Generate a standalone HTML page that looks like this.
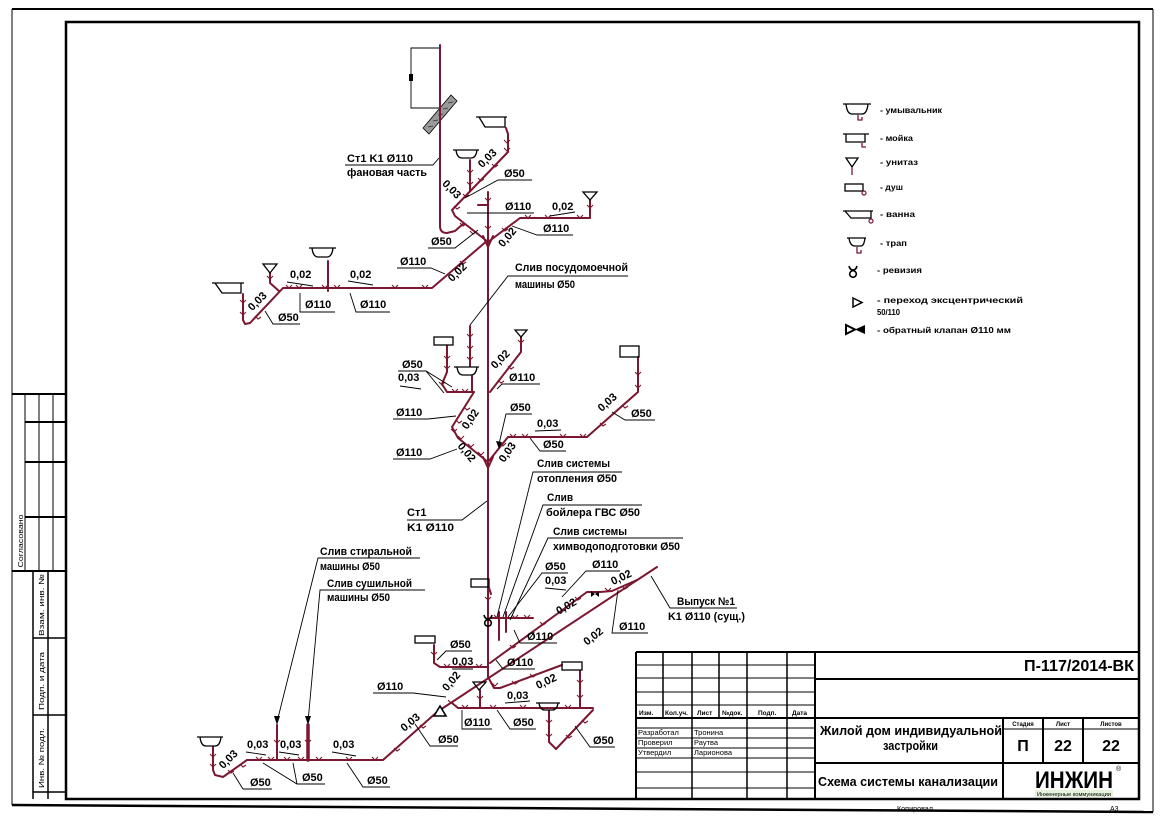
<!DOCTYPE html>
<html><head><meta charset="utf-8">
<style>
html,body{margin:0;padding:0;background:#fff;}
svg{display:block;}
text{font-family:"Liberation Sans","DejaVu Sans",sans-serif;fill:#000;}
.l{font-size:11px;font-weight:bold;}
.lg{font-size:8.5px;font-weight:bold;}
.s{font-size:7.5px;}
.p{fill:none;stroke:#7b1730;stroke-width:2;stroke-linejoin:round;stroke-linecap:round;}
.pt{fill:none;stroke:#7b1730;stroke-width:1.3;stroke-linejoin:round;}
.hk{fill:none;stroke:#7b1730;stroke-width:1.1;}
.k{fill:none;stroke:#000;stroke-width:0.9;}
.f{fill:none;stroke:#000;stroke-width:1.3;}
</style></head><body>
<svg width="1166" height="824" viewBox="0 0 1166 824" xmlns="http://www.w3.org/2000/svg">
<rect x="0" y="0" width="1166" height="824" fill="#fff"/>

<!-- outer frame -->
<path d="M12,9 H1153" stroke="#000" stroke-width="2" fill="none"/>
<path d="M12,9 V805 M1153,9 V812" stroke="#000" stroke-width="1" fill="none"/>
<path d="M12,805 L1153,812" stroke="#000" stroke-width="2.5" fill="none"/>
<!-- inner frame -->
<rect x="66" y="22" width="1073" height="777" fill="none" stroke="#000" stroke-width="2.5"/>

<!-- left strip -->
<g stroke="#000" fill="none">
<path d="M12,394 H66 M12,571 H66" stroke-width="2"/>
<path d="M25,394 V571 M39,394 V571 M53,394 V571" stroke-width="1"/>
<path d="M25,422 H66 M25,462 H66 M25,517 H66" stroke-width="2"/>
<path d="M33,571 V799 M48,571 V799" stroke-width="1.5"/>
<path d="M33,638 H66 M33,715 H66 M33,792 H66" stroke-width="1.5"/>
</g>
<text class="s" transform="translate(23,541) rotate(-90)" text-anchor="middle" textLength="53" lengthAdjust="spacingAndGlyphs">Согласовано</text>
<text class="s" transform="translate(44,605) rotate(-90)" text-anchor="middle" textLength="62" lengthAdjust="spacingAndGlyphs">Взам. инв. №</text>
<text class="s" transform="translate(44,681) rotate(-90)" text-anchor="middle" textLength="58" lengthAdjust="spacingAndGlyphs">Подп. и дата</text>
<text class="s" transform="translate(44,758) rotate(-90)" text-anchor="middle" textLength="60" lengthAdjust="spacingAndGlyphs">Инв. № подл.</text>

<!-- title block -->
<g stroke="#000" fill="none">
<path d="M636,652 H1139 M636,652 V799 M815,652 V799" stroke-width="2"/>
<path d="M636,665 H815 M636,678 H815 M636,692 H815 M636,705 H815" stroke-width="1"/>
<path d="M636,718 H1139" stroke-width="2"/>
<path d="M663,652 V718 M719,652 V718 M692,652 V799 M747,652 V799 M787,652 V799" stroke-width="1.5"/>
<path d="M636,728 H815 M636,738 H815 M636,748 H815 M636,758 H815 M636,772 H815 M636,788 H815" stroke-width="1"/>
<path d="M815,679 H1139 M815,763 H1139" stroke-width="2"/>
<path d="M1003,718 V799 M1043,718 V763 M1083,718 V763" stroke-width="2"/>
<path d="M1003,729 H1139" stroke-width="1"/>
</g>
<g font-size="6.5" font-weight="bold">
<text x="639" y="715">Изм.</text>
<text x="665" y="715">Кол.уч.</text>
<text x="697" y="715">Лист</text>
<text x="722" y="715">№док.</text>
<text x="758" y="715">Подп.</text>
<text x="792" y="715">Дата</text>
</g>
<g font-size="7.5">
<text x="638" y="735">Разработал</text><text x="694" y="735">Тронина</text>
<text x="638" y="745">Проверил</text><text x="694" y="745">Раутва</text>
<text x="638" y="755">Утвердил</text><text x="694" y="755">Ларионова</text>
</g>
<text x="1024" y="671" font-size="16" font-weight="bold" textLength="110" lengthAdjust="spacingAndGlyphs">П-117/2014-ВК</text>
<text x="820" y="735" font-size="13" textLength="182" lengthAdjust="spacingAndGlyphs" font-weight="bold">Жилой дом индивидуальной</text>
<text x="883" y="750" font-size="13" textLength="55" lengthAdjust="spacingAndGlyphs" font-weight="bold">застройки</text>
<text x="818" y="786" font-size="13" textLength="180" lengthAdjust="spacingAndGlyphs" font-weight="bold">Схема системы канализации</text>
<g font-size="6" font-weight="bold" text-anchor="middle">
<text x="1023" y="726">Стадия</text><text x="1063" y="726">Лист</text><text x="1111" y="726">Листов</text>
</g>
<g font-size="16" font-weight="bold" text-anchor="middle">
<text x="1023" y="751">П</text><text x="1063" y="751">22</text><text x="1111" y="751">22</text>
</g>
<text x="1035" y="788" font-size="24" font-weight="bold" fill="#111" textLength="78" lengthAdjust="spacingAndGlyphs">ИНЖИН</text>
<rect x="1035" y="790" width="78" height="7" fill="#e4f2dc"/>
<text x="1037" y="796" font-size="5" fill="#3c9a3c" textLength="74" lengthAdjust="spacingAndGlyphs">Инженерные коммуникации</text>
<text x="1116" y="771" font-size="7">®</text>
<text x="897" y="811" font-size="7" textLength="36" lengthAdjust="spacingAndGlyphs">Копировал</text>
<text x="1110" y="811" font-size="7">А3</text>

<!-- ===== Legend ===== -->
<g class="f">
<path d="M843,104 H871 M846,104 Q847,114 852,114 H862 Q867,114 868,104"/>
<path d="M843,134 H869 M846,134 V142 H865 V134"/>
<path d="M846,158 H858 L852,167 Z"/>
<rect x="845" y="184" width="18" height="7"/>
<path d="M843,211 H873 M845,211 L851,218 H871 V211"/>
<path d="M847,238 H866 M849,238 Q850,246 855,246 H861 Q864,246 865,238"/>
<circle cx="853" cy="274" r="3.3" stroke-width="1.6"/>
<path d="M849,266 Q850,270 853,270 Q856,270 857,266" stroke-width="1.6"/>
<path d="M853,298 L862,302.5 L853,307 Z" stroke-width="1.5"/>
<path d="M846,325 L855,329.5 L846,334 Z" stroke-width="2"/>
</g>
<path d="M865,325 L855,329.5 L865,334 Z" fill="#000"/>
<path class="pt" d="M858,115 V120 H862 V117 M862,143 V147 H866 M852,167 V175 M857,247 V253 H861 V250"/>
<circle cx="864" cy="193" r="2" fill="none" stroke="#7b1730" stroke-width="1.2"/>
<circle cx="871" cy="221" r="2" fill="none" stroke="#7b1730" stroke-width="1.2"/>
<text class="lg" x="880" y="113" textLength="62" lengthAdjust="spacingAndGlyphs">- умывальник</text>
<text class="lg" x="880" y="141" textLength="33" lengthAdjust="spacingAndGlyphs">- мойка</text>
<text class="lg" x="880" y="165" textLength="38" lengthAdjust="spacingAndGlyphs">- унитаз</text>
<text class="lg" x="880" y="190" textLength="23" lengthAdjust="spacingAndGlyphs">- душ</text>
<text class="lg" x="880" y="217" textLength="35" lengthAdjust="spacingAndGlyphs">- ванна</text>
<text class="lg" x="880" y="246" textLength="27" lengthAdjust="spacingAndGlyphs">- трап</text>
<text class="lg" x="877" y="273" textLength="45" lengthAdjust="spacingAndGlyphs">- ревизия</text>
<text class="lg" x="877" y="303" textLength="146" lengthAdjust="spacingAndGlyphs">- переход эксцентрический</text>
<text class="lg" x="877" y="315" textLength="23" lengthAdjust="spacingAndGlyphs">50/110</text>
<text class="lg" x="877" y="333" textLength="134" lengthAdjust="spacingAndGlyphs">- обратный клапан Ø110 мм</text>

<!-- ===== Top dimension & slab ===== -->
<path class="k" d="M440,48 H411 V108 H440"/>
<rect x="409" y="74" width="4" height="7" fill="#000"/>
<polygon points="423,128 451,95 457,101 429,134" fill="#9a9a9a" stroke="#000" stroke-width="0.8"/>
<path d="M428,127 L433,126 M433,121 L438,120 M438,115 L443,114 M443,109 L448,108 M448,103 L453,102" stroke="#333" stroke-width="0.8"/>

<!-- ===== Pipes ===== -->
<!-- top -->
<path class="p" d="M440,45 V226 Q440,233 447,233 L455,231 L463,224"/>
<path class="p" d="M506,128 L508,134 V152 L452,210 L455,216 L488,242"/>
<path class="p" d="M470,160 V191"/>
<path class="p" d="M488,192 V677"/>
<path class="p" d="M488,242 L520,218 H590 V200"/>
<path class="p" d="M488,240 L432,288 H283 L250,323 L245,324 L243,320 V294"/>
<path class="p" d="M328,261 V291"/>
<path class="p" d="M270,273 V283 L279,291"/>
<path class="p" d="M478,205 H488"/>
<path class="p" d="M483,236 L488,247 L493,236"/>
<!-- middle -->
<path class="p" d="M470,326 V366"/>
<path class="p" d="M447,346 V372 L442,384 L447,392 H474"/>
<path class="p" d="M472,376 V392"/>
<path class="p" d="M474,392 L452,427 L458,438 L488,462"/>
<path class="p" d="M521,337 V352 L490,392"/>
<path class="p" d="M488,462 L508,437 H587 L638,392 V357"/>
<path class="p" d="M483,457 L488,468 L493,457"/>
<!-- lower -->
<path class="p" d="M489,588 L491,594"/>
<path class="p" d="M490,618 H533"/>
<path class="p" d="M499,612 V640 M506,612 V632"/>
<path class="p" d="M490,663 L587,592 H600 L612,591 L637,580"/>
<path class="p" d="M657,567 L437,712 L383,760 H247 L223,777 L215,775 L213,770 V747"/>
<path class="p" d="M434,645 V663 L440,667 H488"/>
<path class="p" d="M480,690 V708"/>
<path class="p" d="M452,703 L458,708 H593"/>
<path class="p" d="M549,711 V742 L556,749 L593,710"/>
<path class="p" d="M580,671 V708"/>
<path class="p" d="M488,677 L494,688 L500,688 L562,665"/>
<path class="p" d="M277,725 V760"/>
<path class="p" d="M308,725 V760" style="stroke-width:3.5"/>

<!-- fitting hooks (texture) -->
<path class="hk" d="
M504,140 l3,3 l3,-3 M504,148 l3,3 l3,-3 M492,164 l3,3 l3,-2 M478,178 l3,3 l3,-2 M463,194 l3,3 l3,-2 M454,206 l3,3 l3,-2
M467,170 l3,3 l3,-3 M467,182 l3,3 l3,-3 M485,198 l3,3 l3,-3 M485,226 l3,3 l3,-3
M460,223 l3,3 l3,-2 M470,231 l3,3 l3,-2
M286,285 l3,3 l3,-3 M296,285 l3,3 l3,-3 M322,285 l3,3 l3,-3 M334,285 l3,3 l3,-3 M392,285 l3,3 l3,-3 M422,285 l3,3 l3,-3
M240,300 l3,3 l3,-3 M240,312 l3,3 l3,-3 M255,316 l3,3 l3,-2 M267,276 l3,3 l3,-3
M525,215 l3,3 l3,-3 M545,215 l3,3 l3,-3 M577,215 l3,3 l3,-3 M587,205 l3,3 l3,-3 M502,228 l3,3 l3,-2
M460,261 l3,3 l3,-2
M467,334 l3,3 l3,-3 M467,346 l3,3 l3,-3 M467,357 l3,3 l3,-3 M444,356 l3,3 l3,-3 M444,366 l3,3 l3,-3 M439,382 l3,3 l3,-3
M452,389 l3,3 l3,-3 M462,389 l3,3 l3,-3 M518,340 l3,3 l3,-3 M508,366 l3,3 l3,-2 M498,380 l3,3 l3,-2
M464,407 l3,3 l3,-2 M456,420 l3,3 l3,-2 M451,429 l3,3 l3,-3 M458,436 l3,3 l3,-3 M468,444 l3,3 l3,-3 M478,452 l3,3 l3,-3
M500,443 l3,3 l3,-3 M510,434 l3,3 l3,-3 M522,434 l3,3 l3,-3 M560,434 l3,3 l3,-3 M580,434 l3,3 l3,-3
M600,423 l3,3 l3,-2 M622,405 l3,3 l3,-2 M635,372 l3,3 l3,-3 M635,385 l3,3 l3,-3
M485,597 l3,3 l3,-3 M494,615 l3,3 l3,-3 M512,615 l3,3 l3,-3 M524,615 l3,3 l3,-3
M510,645 l3,3 l3,-2 M540,622 l3,3 l3,-2 M560,608 l3,3 l3,-2 M575,597 l3,3 l3,-2 M605,588 l3,3 l3,-3 M622,586 l3,3 l3,-2
M431,652 l3,3 l3,-3 M444,664 l3,3 l3,-3 M460,664 l3,3 l3,-3 M476,664 l3,3 l3,-3
M477,696 l3,3 l3,-3 M462,705 l3,3 l3,-3 M490,705 l3,3 l3,-3 M520,705 l3,3 l3,-3 M565,705 l3,3 l3,-3
M546,720 l3,3 l3,-3 M546,734 l3,3 l3,-3 M566,735 l3,3 l3,-2 M582,720 l3,3 l3,-2 M577,680 l3,3 l3,-3 M577,695 l3,3 l3,-3
M512,681 l3,3 l3,-2 M530,674 l3,3 l3,-2 M492,683 l3,3 l3,-3
M210,754 l3,3 l3,-3 M210,764 l3,3 l3,-3 M228,770 l3,3 l3,-2 M240,764 l3,3 l3,-2 M256,757 l3,3 l3,-3 M268,757 l3,3 l3,-3
M284,757 l3,3 l3,-3 M298,757 l3,3 l3,-3 M316,757 l3,3 l3,-3 M346,757 l3,3 l3,-3 M372,757 l3,3 l3,-3
M394,748 l3,3 l3,-2 M420,725 l3,3 l3,-2 M448,700 l3,3 l3,-2 M274,740 l3,3 l3,-3 M305,740 l3,3 l3,-3
"/>

<!-- ===== Fixtures ===== -->
<g class="f">
<path d="M476,117 H507 M479,117 L485,127 H505 V117"/>
<path d="M453,150 H479 M456,150 Q457,158 462,158 H471 Q476,158 477,150"/>
<path d="M212,283 H244 M215,283 L222,293 H241 V283"/>
<path d="M309,248 H336 M312,248 Q313,257 318,257 H327 Q332,257 333,248"/>
<path d="M263,264 H277 L270,273 Z"/>
<path d="M583,192 H597 L590,200 Z"/>
<rect x="434" y="337" width="19" height="8"/>
<path d="M454,367 H479 M457,367 Q458,375 463,375 H471 Q476,375 477,367"/>
<path d="M515,330 H527 L521,337 Z"/>
<rect x="620" y="346" width="19" height="11"/>
<rect x="471" y="579" width="18" height="8"/>
<rect x="415" y="636" width="20" height="7"/>
<path d="M473,682 H486 L479,690 Z"/>
<path d="M536,703 H560 M539,703 Q540,710 545,710 H552 Q557,710 558,703"/>
<rect x="562" y="662" width="20" height="8"/>
<path d="M197,737 H223 M200,737 Q201,746 206,746 H215 Q220,746 221,737"/>
<circle cx="488" cy="623" r="3.3" stroke-width="1.6"/>
<path d="M484,615 Q485,619 488,619 Q491,619 492,615" stroke-width="1.6"/>
<path d="M434,716 L440,706 L446,716 Z" fill="#fff" stroke-width="1.6"/>
</g>
<path d="M591,591 L595,594 L591,597 Z M599,591 L595,594 L599,597 Z" fill="#000"/>

<!-- ===== Labels top ===== -->
<text class="l" x="347" y="162" textLength="66" lengthAdjust="spacingAndGlyphs">Ст1 K1 Ø110</text>
<text class="l" x="347" y="176" textLength="80" lengthAdjust="spacingAndGlyphs">фановая часть</text>
<path class="k" d="M345,165 H433 L439,158"/>
<text class="l" x="431" y="245">Ø50</text>
<path class="k" d="M428,248 H455 L478,230"/>
<text class="l" transform="translate(452,189) rotate(45)" y="4" text-anchor="middle">0,03</text>
<text class="l" transform="translate(487,158) rotate(-45)" y="4" text-anchor="middle">0,03</text>
<text class="l" x="504" y="177">Ø50</text>
<path class="k" d="M532,180 H498 L465,198"/>
<text class="l" x="505" y="210">Ø110</text>
<path class="k" d="M534,213 H467"/>
<text class="l" x="552" y="210">0,02</text>
<path class="k" d="M550,216 L575,212"/>
<text class="l" x="543" y="232">Ø110</text>
<path class="k" d="M573,235 H537 L512,226"/>
<text class="l" transform="translate(507,237) rotate(-50)" y="4" text-anchor="middle">0,02</text>
<text class="l" x="400" y="265">Ø110</text>
<path class="k" d="M397,268 H431 L445,274"/>
<text class="l" transform="translate(457,272) rotate(-45)" y="4" text-anchor="middle">0,02</text>
<text class="l" x="290" y="278">0,02</text>
<path class="k" d="M287,282 L313,286"/>
<text class="l" x="350" y="278">0,02</text>
<path class="k" d="M348,281 L373,285"/>
<text class="l" x="305" y="308">Ø110</text>
<path class="k" d="M300,293 V312 H335"/>
<text class="l" x="360" y="308">Ø110</text>
<path class="k" d="M350,293 L356,312 H390"/>
<text class="l" transform="translate(257,301) rotate(-45)" y="4" text-anchor="middle">0,03</text>
<text class="l" x="278" y="321">Ø50</text>
<path class="k" d="M265,311 L273,324 H300"/>

<!-- ===== Labels middle ===== -->
<text class="l" x="515" y="271" textLength="113" lengthAdjust="spacingAndGlyphs">Слив посудомоечной</text>
<path class="k" d="M628,276 H508 L470,325"/>
<text class="l" x="515" y="288" textLength="60" lengthAdjust="spacingAndGlyphs">машины Ø50</text>
<text class="l" x="402" y="368">Ø50</text>
<text class="l" x="398" y="381">0,03</text>
<path class="k" d="M398,371 H426 L452,387 M426,371 L444,393 M400,386 L421,389"/>
<text class="l" transform="translate(500,359) rotate(-45)" y="4" text-anchor="middle">0,02</text>
<text class="l" x="509" y="381">Ø110</text>
<path class="k" d="M540,384 H502 L497,389"/>
<text class="l" x="396" y="416">Ø110</text>
<path class="k" d="M393,419 H428 L456,416"/>
<text class="l" transform="translate(470,419) rotate(-55)" y="4" text-anchor="middle">0,02</text>
<text class="l" x="396" y="456">Ø110</text>
<path class="k" d="M393,459 H430 L457,449"/>
<text class="l" transform="translate(467,452) rotate(50)" y="4" text-anchor="middle">0,02</text>
<text class="l" x="510" y="411">Ø50</text>
<path class="k" d="M532,414 H506 L499,444"/>
<path d="M496,441 L499,449 L502,442 Z" fill="#000"/>
<text class="l" transform="translate(507,452) rotate(-55)" y="4" text-anchor="middle">0,03</text>
<text class="l" x="537" y="427">0,03</text>
<path class="k" d="M535,431 L561,430"/>
<text class="l" x="543" y="448">Ø50</text>
<path class="k" d="M566,451 H540 L530,438"/>
<text class="l" transform="translate(607,402) rotate(-42)" y="4" text-anchor="middle">0,03</text>
<text class="l" x="631" y="417">Ø50</text>
<path class="k" d="M655,420 H625 L612,412"/>

<text class="l" x="537" y="467" textLength="73" lengthAdjust="spacingAndGlyphs">Слив системы</text>
<path class="k" d="M622,472 H533 L497,617"/>
<text class="l" x="537" y="482" textLength="80" lengthAdjust="spacingAndGlyphs">отопления Ø50</text>
<text class="l" x="547" y="501" textLength="26" lengthAdjust="spacingAndGlyphs">Слив</text>
<path class="k" d="M642,505 H543 L503,617"/>
<text class="l" x="546" y="516" textLength="94" lengthAdjust="spacingAndGlyphs">бойлера ГВС Ø50</text>
<text class="l" x="553" y="535" textLength="74" lengthAdjust="spacingAndGlyphs">Слив системы</text>
<path class="k" d="M683,538 H548 L510,620"/>
<text class="l" x="553" y="550" textLength="127" lengthAdjust="spacingAndGlyphs">химводоподготовки Ø50</text>
<text class="l" x="407" y="516">Ст1</text>
<path class="k" d="M407,520 H462 L487,501"/>
<text class="l" x="407" y="531" textLength="47" lengthAdjust="spacingAndGlyphs">K1 Ø110</text>

<!-- ===== Labels lower ===== -->
<text class="l" x="545" y="570">Ø50</text>
<path class="k" d="M568,573 H542 L508,617"/>
<text class="l" x="545" y="584">0,03</text>
<path class="k" d="M545,588 L566,590"/>
<text class="l" x="592" y="568">Ø110</text>
<path class="k" d="M620,571 H586 L562,597"/>
<text class="l" transform="translate(621,577) rotate(-25)" y="4" text-anchor="middle">0,02</text>
<text class="l" transform="translate(566,606) rotate(-30)" y="4" text-anchor="middle">0,02</text>
<text class="l" x="677" y="605" textLength="58" lengthAdjust="spacingAndGlyphs">Выпуск №1</text>
<path class="k" d="M737,608 H670 L651,576"/>
<text class="l" x="668" y="620" textLength="77" lengthAdjust="spacingAndGlyphs">K1 Ø110 (сущ.)</text>
<text class="l" x="619" y="630">Ø110</text>
<path class="k" d="M648,633 H612 L618,590"/>
<text class="l" transform="translate(593,636) rotate(-38)" y="4" text-anchor="middle">0,02</text>
<text class="l" x="527" y="640">Ø110</text>
<path class="k" d="M557,643 H520 L514,630"/>
<text class="l" x="507" y="666">Ø110</text>
<path class="k" d="M535,669 H503 L496,660"/>
<text class="l" transform="translate(546,681) rotate(-25)" y="4" text-anchor="middle">0,02</text>
<text class="l" x="507" y="699">0,03</text>
<path class="k" d="M505,703 L530,701"/>
<text class="l" x="464" y="726">Ø110</text>
<path class="k" d="M462,710 V729 H492"/>
<text class="l" x="513" y="726">Ø50</text>
<path class="k" d="M497,710 L510,729 H536"/>
<text class="l" x="593" y="744">Ø50</text>
<path class="k" d="M575,726 L590,747 H615"/>
<text class="l" x="438" y="743">Ø50</text>
<path class="k" d="M415,724 L430,746 H458"/>
<text class="l" transform="translate(410,722) rotate(-40)" y="4" text-anchor="middle">0,03</text>
<text class="l" x="450" y="648">Ø50</text>
<path class="k" d="M472,651 H446 L437,660"/>
<text class="l" x="452" y="665">0,03</text>
<path class="k" d="M452,669 L473,669"/>
<text class="l" transform="translate(451,681) rotate(-50)" y="4" text-anchor="middle">0,02</text>
<text class="l" x="377" y="690">Ø110</text>
<path class="k" d="M373,693 H413 L446,697"/>

<!-- ===== Labels bottom-left ===== -->
<text class="l" x="320" y="555" textLength="92" lengthAdjust="spacingAndGlyphs">Слив стиральной</text>
<path class="k" d="M420,558 H318 L277,722"/>
<path d="M274,716 L277,725 L280,716 Z" fill="#000"/>
<text class="l" x="320" y="570" textLength="60" lengthAdjust="spacingAndGlyphs">машины Ø50</text>
<text class="l" x="327" y="587" textLength="85" lengthAdjust="spacingAndGlyphs">Слив сушильной</text>
<path class="k" d="M425,590 H320 L308,722"/>
<path d="M305,716 L308,725 L311,716 Z" fill="#000"/>
<text class="l" x="327" y="601" textLength="63" lengthAdjust="spacingAndGlyphs">машины Ø50</text>
<text class="l" transform="translate(228,759) rotate(-45)" y="4" text-anchor="middle">0,03</text>
<text class="l" x="247" y="748">0,03</text>
<path class="k" d="M246,752 L266,755"/>
<text class="l" x="280" y="748">0,03</text>
<path class="k" d="M279,752 L299,755"/>
<text class="l" x="333" y="748">0,03</text>
<path class="k" d="M332,752 L356,756"/>
<text class="l" x="250" y="786">Ø50</text>
<path class="k" d="M233,773 L243,789 H272"/>
<text class="l" x="302" y="781">Ø50</text>
<path class="k" d="M263,763 L297,784 H325 M293,763 L297,784"/>
<text class="l" x="367" y="784">Ø50</text>
<path class="k" d="M347,763 L363,787 H390"/>
</svg>
</body></html>
